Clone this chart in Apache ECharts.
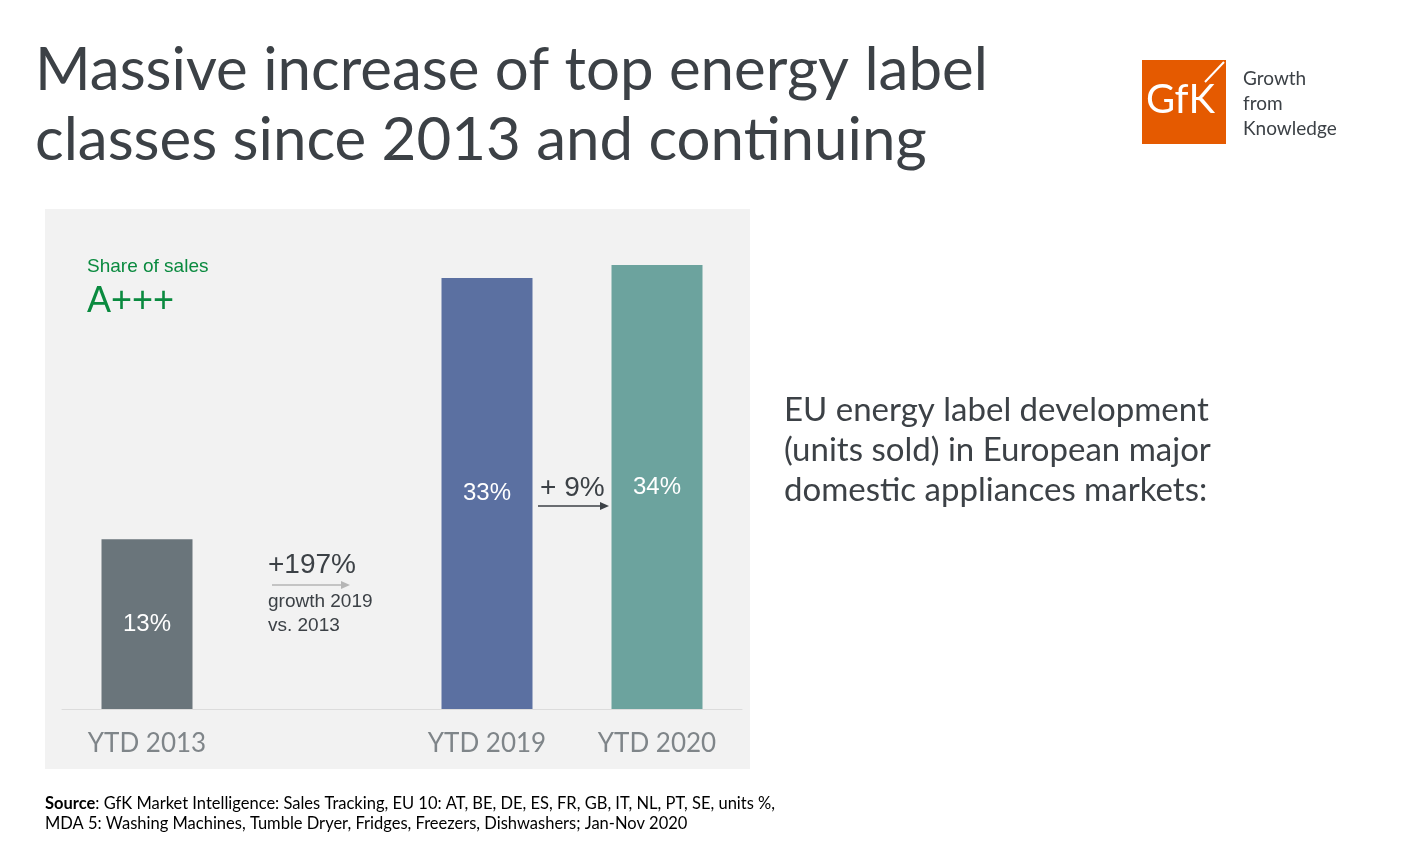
<!DOCTYPE html>
<html>
<head>
<meta charset="utf-8">
<script src="https://cdn.jsdelivr.net/npm/echarts@6/dist/echarts.min.js"></script>
<style>
  html, body { margin: 0; padding: 0; background: #fff; }
  #chart { width: 1421px; height: 857px; }
</style>
</head>
<body>
<div id="chart"></div>
<script>
const categories = ['YTD 2013', '', 'YTD 2019', 'YTD 2020'];
const shares = [13, null, 33, 34];
const barColors = ['#6a757b', null, '#5b70a1', '#6ca39e'];

const chart = echarts.init(document.getElementById('chart'));
const font = 'Lato, "Open Sans", sans-serif';
const arial = '"Liberation Sans", Arial, sans-serif';

chart.setOption({
  backgroundColor: '#fff',
  animation: false,
  grid: { left: 62, right: 1421 - 742, top: 265, bottom: 857 - 709 },
  xAxis: {
    type: 'category',
    data: categories,
    axisTick: { show: false },
    axisLine: { lineStyle: { color: '#dcdcdc', width: 1 } },
    axisLabel: { color: '#7f8589', fontSize: 26, fontFamily: font, margin: 22 }
  },
  yAxis: { type: 'value', min: 0, max: 34, show: false, splitLine: { show: false } },
  series: [{
    type: 'bar',
    barWidth: 91,
    data: shares.map((v, i) => v === null ? null : { value: v, itemStyle: { color: barColors[i] } }),
    label: {
      show: true, position: 'inside', color: '#fff', fontSize: 24, fontFamily: arial,
      formatter: p => p.value + '%'
    }
  }],
  graphic: [
    { type: 'rect', z: -10, shape: { x: 45, y: 209, width: 705, height: 560 }, style: { fill: '#f2f2f2' } },
    { type: 'text', left: 35, top: 36, style: { text: 'Massive increase of top energy label\nclasses since 2013 and continuing', fill: '#3c4146', font: '60px ' + font, lineHeight: 70 } },
    { type: 'text', left: 87, top: 257, style: { text: 'Share of sales', fill: '#0a8a3f', font: '19px ' + arial } },
    { type: 'text', left: 87, top: 284, style: { text: 'A+++', fill: '#0a8a3f', font: '36px ' + arial } },
    { type: 'text', left: 268, top: 551, style: { text: '+197%', fill: '#3c4146', font: '28px ' + arial } },
    { type: 'line', shape: { x1: 272, y1: 585, x2: 346, y2: 585 }, style: { stroke: '#b5b5b5', lineWidth: 1.5 } },
    { type: 'polygon', shape: { points: [[350, 585], [341, 581], [341, 589]] }, style: { fill: '#b5b5b5' } },
    { type: 'text', left: 268, top: 590, style: { text: 'growth 2019\nvs. 2013', fill: '#3c4146', font: '19px ' + arial, lineHeight: 24 } },
    { type: 'text', left: 540, top: 474, style: { text: '+ 9%', fill: '#3c4146', font: '28px ' + arial } },
    { type: 'line', shape: { x1: 538, y1: 506, x2: 602, y2: 506 }, style: { stroke: '#3c4146', lineWidth: 1.5 } },
    { type: 'polygon', shape: { points: [[609, 506], [600, 502], [600, 510]] }, style: { fill: '#3c4146' } },
    { type: 'text', left: 784, top: 390, style: { text: 'EU energy label development\n(units sold) in European major\ndomestic appliances markets:', fill: '#3c4146', font: '33px ' + font, lineHeight: 40 } },
    { type: 'rect', shape: { x: 1142, y: 60, width: 84, height: 84 }, style: { fill: '#e55a00' } },
    { type: 'text', left: 1146, top: 80, style: { text: 'GfK', fill: '#fff', font: '40px ' + font } },
    { type: 'line', shape: { x1: 1205, y1: 82, x2: 1224, y2: 62 }, style: { stroke: '#fff', lineWidth: 2 } },
    { type: 'text', left: 1243, top: 66, style: { text: 'Growth\nfrom\nKnowledge', fill: '#3c4146', font: '19px ' + font, lineHeight: 25 } },
    { type: 'text', left: 45, top: 794, style: {
      rich: { b: { fontWeight: 'bold', fontSize: 16.5, fontFamily: font, fill: '#000' }, n: { fontSize: 16.5, fontFamily: font, fill: '#000', lineHeight: 20 } },
      text: '{b|Source}{n|: GfK Market Intelligence: Sales Tracking, EU 10: AT, BE, DE, ES, FR, GB, IT, NL, PT, SE, units %,}\n{n|MDA 5: Washing Machines, Tumble Dryer, Fridges, Freezers, Dishwashers; Jan-Nov 2020}',
      lineHeight: 20
    } }
  ]
});
</script>
</body>
</html>
